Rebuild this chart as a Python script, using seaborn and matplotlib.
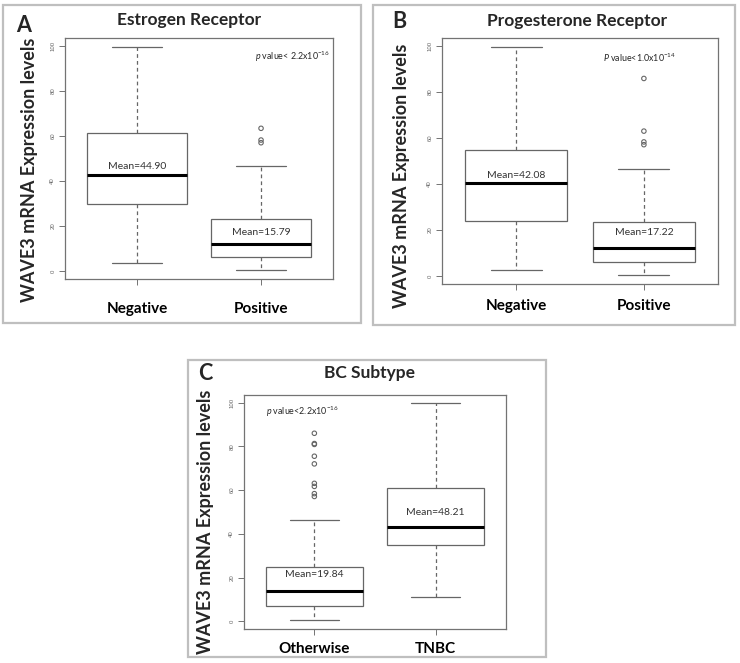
import pandas as pd
import seaborn as sns
import matplotlib.pyplot as plt
from matplotlib.patches import Rectangle

# ---- data (five-number summaries: low whisker, Q1, median, Q3, high whisker)
groups_a = ["Negative", "Positive"]
neg_a = [3.7, 30.0, 42.7, 61.4, 99.5]
pos_a = [0.7, 6.2, 11.9, 23.0, 46.6]
out_pos_a = [63.4, 58.2, 57.0]
means_a = [44.90, 15.79]

groups_b = ["Negative", "Positive"]
neg_b = [2.6, 23.9, 40.6, 54.8, 99.5]
pos_b = [0.6, 6.1, 12.2, 23.5, 46.7]
out_pos_b = [85.9, 63.0, 58.3, 57.1]
means_b = [42.08, 17.22]

groups_c = ["Otherwise", "TNBC"]
oth_c = [0.6, 7.0, 14.1, 24.9, 46.4]
tnbc_c = [11.1, 35.0, 43.3, 61.2, 99.7]
out_oth_c = [86.0, 81.3, 80.9, 75.5, 72.0, 63.1, 61.7, 58.4, 57.1]
means_c = [19.84, 48.21]

titles = ["Estrogen Receptor", "Progesterone Receptor", "BC Subtype"]
letters = ["A", "B", "C"]
pvals = [r"$\mathit{p}$ value< 2.2x10$^{-16}$",
         r"$\mathit{P}$ value<1.0x10$^{-14}$",
         r"$\mathit{p}$ value<2.2x10$^{-16}$"]
ylab = "WAVE3 mRNA Expression levels"

sns.set_style("ticks")
plt.rcParams["font.family"] = ["Lato", "DejaVu Sans"]
plt.rcParams["mathtext.fontset"] = "custom"
plt.rcParams["mathtext.rm"] = "Lato"
plt.rcParams["mathtext.it"] = "Lato:italic"

W, H = 740, 663
fig = plt.figure(figsize=(W / 100, H / 100), dpi=100)


def frac(l, t, r, b):
    return [l / W, 1 - b / H, (r - l) / W, (b - t) / H]


panels = [
    dict(groups=groups_a, boxes=[neg_a, pos_a], outs={groups_a[1]: out_pos_a}, means=means_a,
         border=(3, 5, 361, 323), axes=(65, 38, 333, 279), title=(189, 20), letter=(24, 26),
         ylab=(30, 170), pxy=(0.847, 0.921), xpad=12.5),
    dict(groups=groups_b, boxes=[neg_b, pos_b], outs={groups_b[1]: out_pos_b}, means=means_b,
         border=(373, 5, 735, 325), axes=(442, 38, 718, 284), title=(577, 21), letter=(399, 22),
         ylab=(401, 176), pxy=(0.717, 0.92), xpad=7),
    dict(groups=groups_c, boxes=[oth_c, tnbc_c], outs={groups_c[0]: out_oth_c}, means=means_c,
         border=(188, 360, 546, 657), axes=(244, 395, 506, 629), title=(370, 373), letter=(205, 374),
         ylab=(206, 522), pxy=(0.221, 0.929), xpad=5.5),
]

for i, p in enumerate(panels):
    l, t, r, b = p["border"]
    fig.add_artist(Rectangle((l / W, 1 - b / H), (r - l) / W, (b - t) / H, transform=fig.transFigure,
                             fill=False, edgecolor="0.75", linewidth=1.6))
    ax = fig.add_axes(frac(*p["axes"]))

    box_df = pd.DataFrame({
        "group": [g for g, vals in zip(p["groups"], p["boxes"]) for _ in vals],
        "value": [v for vals in p["boxes"] for v in vals],
    })
    out_df = pd.DataFrame({
        "group": [g for g, vals in p["outs"].items() for _ in vals],
        "value": [v for vals in p["outs"].values() for v in vals],
    })

    sns.boxplot(data=box_df, x="group", y="value", order=p["groups"], whis=(0, 100), width=0.8,
                color="white", linecolor="0.4", linewidth=0.9, fliersize=0,
                medianprops=dict(color="black", linewidth=2.2),
                whiskerprops=dict(linestyle=(0, (3, 2.5))), ax=ax)
    sns.stripplot(data=out_df, x="group", y="value", order=p["groups"], jitter=False, size=3.2,
                  marker="o", facecolors="none", edgecolor="0.4", linewidth=0.8, ax=ax)

    for k, m in enumerate(p["means"]):
        ax.text(k, m + 1.5, f"Mean={m:.2f}", ha="center", va="center", fontsize=7.5, color="0.2")
    ax.text(p["pxy"][0], p["pxy"][1], pvals[i], transform=ax.transAxes, ha="center", va="center",
            fontsize=6.4, color="0.15")

    ax.set_xlim(-0.58, 1.58)
    ax.set_ylim(-3.5, 103.5)
    ax.set_yticks([0, 20, 40, 60, 80, 100])
    ax.set_yticklabels(["0", "20", "40", "60", "80", "100"], rotation=90, va="center",
                       family="Liberation Sans", fontsize=4.3, color="0.4")
    ax.set_xticks([0, 1])
    ax.set_xticklabels(p["groups"], fontsize=11, fontweight="bold", color="black")
    ax.tick_params(axis="y", length=4, width=0.7, color="0.45", pad=3)
    ax.tick_params(axis="x", length=4, width=0.7, color="0.45", pad=p["xpad"])
    ax.set_xlabel("")
    ax.set_ylabel("")
    for s in ax.spines.values():
        s.set_color("0.45")
        s.set_linewidth(0.9)

    fig.text(p["title"][0] / W, 1 - p["title"][1] / H, titles[i], ha="center", va="center",
             fontsize=12.5, fontweight="bold")
    fig.text(p["letter"][0] / W, 1 - p["letter"][1] / H, letters[i], ha="center", va="center",
             fontsize=15.5, fontweight="bold")
    fig.text(p["ylab"][0] / W, 1 - p["ylab"][1] / H, ylab, rotation=90, ha="center", va="center",
             fontsize=13, fontweight="bold")

fig.savefig("out.png", dpi=100)
